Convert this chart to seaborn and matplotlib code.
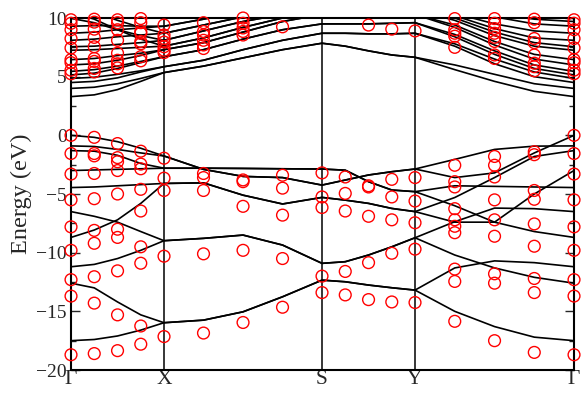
import numpy as np
import pandas as pd
import matplotlib
matplotlib.use("Agg")
import matplotlib.pyplot as plt
from matplotlib.ticker import MultipleLocator
import seaborn as sns

# ---------------- data ----------------
k_labels = ["Γ", "X", "S", "Y", "Γ"]
k_sym = [0.0, 0.1849, 0.4990, 0.6839, 1.0]
k_points = [0.0, 0.0462, 0.0925, 0.1387, 0.1849,
            0.2634, 0.3420, 0.4205, 0.4990,
            0.5452, 0.5915, 0.6377, 0.6839,
            0.7629, 0.8420, 0.9210, 1.0]

# valence bands (black lines), energies at k_points
vb1 = [0.0, -0.17, -0.54, -1.1, -1.76, -2.9, -3.5, -3.6, -4.24, -3.81, -3.38, -3.1, -2.87, -3.6, -3.2, -1.5, 0.0]
vb2 = [-0.9, -0.95, -1.2, -1.5, -1.76, -2.9, -3.5, -3.6, -4.24, -3.81, -3.38, -3.1, -2.87, -2.05, -1.2, -0.92, -0.9]
vb3 = [-1.3, -1.35, -1.7, -2.4, -2.8, -2.8, -2.82, -2.85, -2.87, -2.97, -3.95, -4.66, -4.8, -4.3, -4.35, -4.4, -4.45]
vb4 = [-3.0, -2.95, -2.9, -2.85, -2.8, -2.8, -2.82, -2.85, -2.87, -2.97, -3.95, -4.66, -4.8, -6.0, -7.4, -8.2, -8.7]
vb5 = [-4.45, -4.4, -4.3, -4.2, -4.1, -4.05, -5.1, -5.85, -5.29, -5.52, -5.8, -6.23, -6.5, -7.4, -7.4, -5.0, -3.0]
vb6 = [-8.7, -8.07, -7.2, -5.8, -4.1, -4.05, -5.1, -5.85, -5.29, -5.52, -5.8, -6.23, -6.5, -5.3, -3.6, -1.8, -1.3]
vb7 = [-6.5, -6.9, -7.4, -8.2, -8.98, -8.78, -8.5, -9.35, -10.91, -10.77, -10.2, -9.5, -8.73, -7.36, -6.2, -6.25, -6.5]
vb8 = [-11.2, -11.0, -10.5, -9.8, -8.98, -8.78, -8.5, -9.35, -10.91, -10.77, -10.2, -9.5, -8.73, -10.2, -11.3, -12.1, -12.6]
vb9 = [-12.6, -13.0, -14.2, -15.3, -15.97, -15.75, -15.04, -13.76, -12.34, -12.48, -12.76, -12.99, -13.19, -11.3, -10.7, -10.85, -11.2]
vb10 = [-17.5, -17.4, -17.1, -16.6, -15.97, -15.75, -15.04, -13.76, -12.34, -12.48, -12.76, -12.99, -13.19, -15.0, -16.3, -17.2, -17.5]

# conduction bands (black lines)
cb1 = [3.3, 3.45, 3.9, 4.6, 5.35, 5.9, 6.6, 7.3, 7.85, 7.6, 7.2, 6.85, 6.65, 5.6, 4.6, 3.75, 3.3]
cb2 = [4.0, 4.1, 4.4, 4.85, 5.35, 5.9, 6.6, 7.3, 7.85, 7.6, 7.2, 6.85, 6.65, 6.0, 5.2, 4.4, 4.0]
cb3 = [4.5, 4.6, 4.9, 5.4, 5.85, 6.4, 7.3, 8.1, 8.7, 8.7, 8.65, 8.65, 8.7, 7.6, 6.1, 5.0, 4.5]
cb4 = [4.85, 4.95, 5.2, 5.5, 5.85, 6.4, 7.3, 8.1, 8.7, 8.7, 8.65, 8.65, 8.7, 7.8, 6.5, 5.4, 4.85]
cb5 = [5.15, 5.3, 5.7, 6.2, 6.7, 7.3, 8.2, 9.0, 9.5, 9.5, 9.5, 9.55, 9.6, 8.4, 6.9, 5.7, 5.15]
cb6 = [5.45, 5.6, 5.9, 6.3, 6.7, 7.3, 8.2, 9.0, 9.5, 9.5, 9.5, 9.55, 9.6, 8.6, 7.2, 6.0, 5.45]
cb7 = [6.0, 6.1, 6.4, 6.8, 7.3, 7.9, 8.8, 9.7, 10.3, 10.3, 10.3, 10.3, 10.3, 9.2, 7.7, 6.5, 6.0]
cb8 = [6.45, 6.55, 6.8, 7.0, 7.3, 7.9, 8.8, 9.7, 10.3, 10.3, 10.3, 10.3, 10.3, 9.4, 8.0, 6.9, 6.45]
cb9 = [7.25, 7.3, 7.4, 7.5, 7.6, 8.3, 9.2, 10.0, 10.6, 10.6, 10.6, 10.65, 10.7, 9.8, 8.5, 7.6, 7.25]
cb10 = [10.5, 9.9, 9.0, 8.2, 7.6, 8.3, 9.2, 10.0, 10.6, 10.6, 10.6, 10.65, 10.7, 10.0, 8.8, 7.9, 7.55]
cb11 = [7.55, 7.6, 7.75, 7.9, 8.1, 8.9, 9.7, 10.3, 10.8, 10.85, 10.9, 10.95, 11.0, 10.2, 9.1, 8.3, 8.1]
cb12 = [9.97, 9.6, 9.0, 8.5, 8.1, 8.9, 9.7, 10.3, 10.8, 10.85, 10.9, 10.95, 11.0, 10.4, 9.5, 8.9, 8.7]
cb13 = [8.1, 8.2, 8.4, 8.55, 8.7, 9.4, 10.1, 10.8, 11.3, 11.35, 11.4, 11.45, 11.5, 10.9, 10.1, 9.5, 9.3]
cb14 = [11.0, 10.5, 9.8, 9.2, 8.7, 9.4, 10.1, 10.8, 11.3, 11.35, 11.4, 11.45, 11.5, 11.1, 10.4, 9.9, 9.7]
cb15 = [8.7, 8.8, 9.0, 9.15, 9.3, 9.9, 10.6, 11.2, 11.8, 11.8, 11.85, 11.9, 12.0, 11.5, 10.8, 10.2, 9.97]
cb16 = [9.3, 9.35, 9.35, 9.3, 9.3, 9.9, 10.6, 11.2, 11.8, 11.8, 11.85, 11.9, 12.0, 11.7, 11.0, 10.5, 10.3]

# red circles: energies at each k point
pts_k0 = [9.85, 9.55, 9.0, 8.25, 7.45, 6.45, 6.2, 5.55, 5.25, 0.0, -1.55, -3.3, -5.5, -7.8, -9.8, -12.3, -13.7, -18.7]
pts_k1 = [9.9, 9.65, 9.05, 8.35, 7.55, 6.55, 6.3, 5.7, 5.4, -0.17, -1.55, -1.75, -3.25, -5.4, -8.1, -9.2, -12.05, -14.3, -18.6]
pts_k2 = [9.85, 9.6, 9.0, 8.1, 7.0, 6.4, 6.1, 5.75, -0.7, -1.9, -2.25, -3.0, -5.0, -8.0, -8.7, -11.55, -15.3, -18.35]
pts_k3 = [9.95, 9.6, 8.85, 8.7, 8.0, 7.8, 6.7, 6.35, -1.35, -2.45, -2.85, -4.6, -6.45, -9.5, -10.9, -16.25, -17.8]
pts_k4 = [9.4, 8.55, 8.25, 7.95, 7.55, 7.25, 7.05, -1.95, -3.65, -4.7, -10.3, -17.15]
pts_k5 = [9.6, 8.85, 8.55, 8.1, 7.7, 7.4, -3.25, -3.6, -4.7, -10.1, -16.85]
pts_k6 = [10.0, 9.55, 9.15, 8.85, 8.55, -3.8, -3.95, -6.05, -9.8, -15.95]
pts_k7 = [9.25, -3.4, -4.5, -6.8, -10.5, -14.65]
pts_k8 = [-3.2, -5.25, -6.15, -12.0, -13.4]
pts_k9 = [-3.55, -4.95, -6.45, -11.6, -13.6]
pts_k10 = [9.4, -4.3, -4.4, -6.9, -10.85, -14.0]
pts_k11 = [9.05, -3.75, -5.25, -7.2, -10.05, -14.2]
pts_k12 = [8.9, -3.6, -5.6, -7.45, -9.7, -14.25]
pts_k13 = [9.95, 9.0, 8.7, 8.45, 7.5, -2.55, -3.95, -4.4, -6.25, -7.2, -7.75, -8.3, -11.4, -12.45, -15.85]
pts_k14 = [9.95, 9.55, 9.1, 8.7, 8.35, 8.0, 6.85, 6.55, -1.8, -2.55, -3.55, -5.5, -7.2, -8.6, -11.8, -12.6, -17.5]
pts_k15 = [9.9, 9.6, 8.25, 7.9, 6.85, 6.15, 5.85, 5.5, -1.4, -1.65, -4.7, -5.45, -7.55, -9.45, -12.2, -13.4, -18.5]
pts_k16 = [9.85, 9.55, 9.0, 8.25, 7.45, 6.45, 6.2, 5.55, 5.25, 0.0, -1.55, -3.3, -5.5, -7.8, -9.8, -12.3, -13.7, -18.7]

bands = [vb1, vb2, vb3, vb4, vb5, vb6, vb7, vb8, vb9, vb10,
         cb1, cb2, cb3, cb4, cb5, cb6, cb7, cb8, cb9, cb10,
         cb11, cb12, cb13, cb14, cb15, cb16]
points = [pts_k0, pts_k1, pts_k2, pts_k3, pts_k4, pts_k5, pts_k6, pts_k7, pts_k8,
          pts_k9, pts_k10, pts_k11, pts_k12, pts_k13, pts_k14, pts_k15, pts_k16]

# ---------------- tables ----------------
line_rows = []
for b, band in enumerate(bands):
    for k, e in zip(k_points, band):
        line_rows.append((k, e, b))
df_lines = pd.DataFrame(line_rows, columns=["k", "E", "band"])

pt_rows = []
for k, vals in zip(k_points, points):
    for e in vals:
        pt_rows.append((k, e))
df_pts = pd.DataFrame(pt_rows, columns=["k", "E"])

# ---------------- plot ----------------
sns.set_style("ticks")
plt.rcParams["font.family"] = ["Liberation Serif", "DejaVu Serif"]

fig = plt.figure(figsize=(5.83, 3.94), dpi=100)
ax = fig.add_axes([0.1218, 0.0609, 0.8628, 0.8934])

sns.lineplot(data=df_lines, x="k", y="E", units="band", estimator=None,
             sort=False, color="black", linewidth=1.2, legend=False, ax=ax)

for ks in k_sym[1:4]:
    ax.axvline(ks, color="black", linewidth=1.1, zorder=1)

sns.scatterplot(data=df_pts, x="k", y="E", marker="o", s=72, color="red",
                facecolors="none", edgecolor="red", linewidth=1.0,
                legend=False, ax=ax, clip_on=False, zorder=4)

ax.set_xlim(0, 1)
ax.set_ylim(-20, 10)
ax.set_xticks(k_sym)
ax.set_xticklabels(k_labels, fontsize=15.5)
ax.set_yticks(np.arange(-20, 11, 5))
ax.yaxis.set_minor_locator(MultipleLocator(2.5))
ax.tick_params(axis="y", which="major", direction="in", length=6.5, width=1.0,
               left=True, right=True, labelsize=14, pad=3)
ax.tick_params(axis="y", which="minor", direction="in", length=3.3, width=1.0,
               left=True, right=True)
ax.tick_params(axis="x", which="both", length=0, pad=0.3)
ax.set_xlabel("")
ax.set_ylabel("Energy (eV)", fontsize=17.5, labelpad=3)
for sp in ax.spines.values():
    sp.set_linewidth(1.5)
    sp.set_color("black")

fig.savefig("out.png", dpi=100)
